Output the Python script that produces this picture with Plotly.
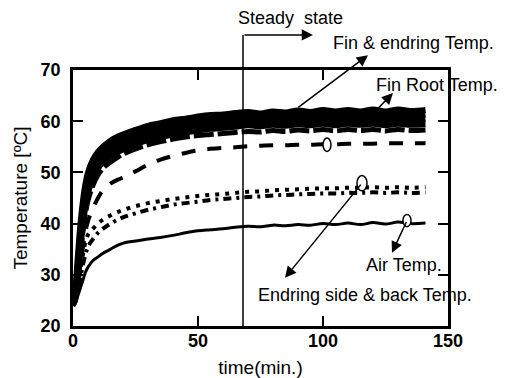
import plotly.graph_objects as go

# time axis (min.)
time_min = [0, 1, 2, 3, 4, 5, 6, 8, 10, 12, 15, 18, 21, 25, 30, 35, 40, 45, 50, 55,
            60, 65, 70, 75, 80, 85, 90, 95, 100, 105, 110, 115, 120, 125, 130, 135, 141]

# Fin & endring temperatures (thick band)
fin_end_1 = [24.5, 27.5, 34, 40, 44.5, 47.8, 50, 52.5, 54, 55, 56.2, 57, 57.6, 58.3, 59.1, 59.6, 60.2, 60.5, 60.9, 61.2,
             61.3, 61.6, 61.8, 61.5, 61.9, 61.7, 62.1, 61.8, 62.2, 61.9, 62.2, 61.9, 62.3, 61.9, 62.3, 62.0, 62.2]
fin_end_2 = [24.3, 27, 32.5, 38.5, 43, 46.5, 48.8, 51.5, 53, 54, 55.2, 56, 56.6, 57.3, 58.1, 58.7, 59.3, 59.7, 60.1, 60.3,
             60.5, 60.8, 61, 60.8, 61.1, 60.9, 61.2, 61, 61.3, 61, 61.3, 61.1, 61.4, 61, 61.3, 61.1, 61.3]
fin_end_3 = [24.1, 26.5, 31.5, 37, 41.5, 45.2, 47.5, 50.3, 52, 53, 54.2, 55, 55.7, 56.4, 57.2, 57.9, 58.4, 58.8, 59.2, 59.5,
             59.7, 59.9, 60.1, 59.9, 60.2, 60, 60.3, 60.1, 60.4, 60.1, 60.4, 60.2, 60.4, 60.1, 60.4, 60.2, 60.4]
fin_end_4 = [24, 26, 30.5, 35.5, 40, 43.5, 46, 49, 50.8, 52, 53.2, 54, 54.7, 55.5, 56.3, 56.9, 57.4, 57.8, 58.2, 58.5,
             58.7, 58.9, 59.2, 59, 59.3, 59.1, 59.4, 59.2, 59.5, 59.2, 59.5, 59.3, 59.5, 59.2, 59.5, 59.3, 59.4]
fin_end_5 = [24, 25.5, 29.5, 34, 38.5, 42, 44.5, 47.5, 49.5, 50.8, 52, 53, 53.8, 54.6, 55.4, 56, 56.5, 56.9, 57.2, 57.4,
             57.6, 57.8, 58, 57.9, 58.2, 58, 58.3, 58.1, 58.4, 58.1, 58.4, 58.2, 58.4, 58.1, 58.4, 58.2, 58.3]

# Fin root temperature (dashed)
fin_root = [24, 25, 28.5, 32, 35.5, 38.5, 40.5, 43, 45, 46.5, 47.8, 48.6, 49.2, 50.2, 51.5, 52.5, 53.2, 53.8, 54.3, 54.6,
            54.8, 54.9, 55.1, 55.2, 55.3, 55.3, 55.4, 55.4, 55.5, 55.5, 55.6, 55.6, 55.6, 55.7, 55.7, 55.7, 55.7]

# Endring side & back temperatures (dotted)
endring_side = [24, 25, 28, 31, 34, 36.5, 37.8, 39, 40, 40.8, 41.6, 42.3, 42.8, 43.4, 44, 44.4, 44.8, 45.1, 45.4, 45.6,
                45.8, 46, 46.2, 46.3, 46.5, 46.6, 46.7, 46.8, 46.9, 46.9, 47, 47, 47.1, 47, 47.1, 47, 47.1]
endring_back = [24, 24.8, 27, 29.5, 32, 34, 35.5, 37, 38.2, 39, 40, 40.8, 41.4, 42, 42.7, 43.2, 43.7, 44, 44.3, 44.6,
                44.8, 45, 45.2, 45.3, 45.5, 45.6, 45.7, 45.8, 45.9, 45.9, 46, 46, 46.1, 46, 46.1, 46, 46.1]

# Air temperature (solid)
air = [24, 24.5, 26, 27.5, 29, 30.5, 31.5, 32.8, 33.5, 34.2, 35, 35.8, 36.3, 36.6, 37, 37.3, 37.7, 38.2, 38.6, 38.8,
       39, 39.3, 39.5, 39.4, 39.7, 39.6, 39.8, 39.7, 40, 39.8, 40.1, 39.8, 40.2, 39.9, 40.3, 40, 40.1]

steady_time = 68

x_ticks = [0, 50, 100, 150]
y_ticks = [20, 30, 40, 50, 60, 70]

fig = go.Figure()
for s in [fin_end_1, fin_end_2, fin_end_3, fin_end_4]:
    fig.add_trace(go.Scatter(x=time_min, y=s, mode="lines",
                             line=dict(color="black", width=6, shape="spline")))
fig.add_trace(go.Scatter(x=time_min, y=fin_end_5, mode="lines",
                         line=dict(color="black", width=5, dash="20px,4px", shape="spline")))
fig.add_trace(go.Scatter(x=time_min, y=fin_root, mode="lines",
                         line=dict(color="black", width=4, dash="14px,12px", shape="spline")))
fig.add_trace(go.Scatter(x=time_min, y=endring_side, mode="lines",
                         line=dict(color="black", width=4, dash="4px,6px", shape="spline")))
fig.add_trace(go.Scatter(x=time_min, y=endring_back, mode="lines",
                         line=dict(color="black", width=4, dash="8px,5px,3px,5px", shape="spline")))
fig.add_trace(go.Scatter(x=time_min, y=air, mode="lines",
                         line=dict(color="black", width=3, shape="spline")))

ann_font = dict(family="Liberation Sans, Arial", size=18, color="black")

# steady state line + arrow
fig.add_shape(type="line", xref="x", yref="paper", x0=steady_time, x1=steady_time, y0=0, y1=1.137,
              line=dict(color="black", width=1.5))
fig.add_annotation(xref="x", yref="paper", x=96, y=1.137, ax=-(96 - steady_time) * 2.5, ay=0,
                   axref="pixel", ayref="pixel", text="", showarrow=True,
                   arrowhead=2, arrowsize=1.5, arrowwidth=1.5, arrowcolor="black")
fig.add_annotation(xref="paper", yref="paper", x=0.579, y=1.203, text="Steady  state",
                   showarrow=False, font=ann_font, xanchor="center", yanchor="middle")

# label arrows (head, tail) in data coords
arrows = [
    ((118, 72.9), (89.5, 62.5)),
    ((128, 65.5), (120, 61.5)),
    ((84.8, 29.4), (115.6, 47.9)),
    ((127.6, 34.3), (133.6, 40.6)),
]
for (hx, hy), (tx, ty) in arrows:
    fig.add_annotation(xref="x", yref="y", x=hx, y=hy, axref="x", ayref="y", ax=tx, ay=ty,
                       text="", showarrow=True, arrowhead=2, arrowsize=1.5, arrowwidth=1.5,
                       arrowcolor="black")

# small circles marking the curves
for cx, cy, rx, ry in [(115.6, 47.9, 2.0, 1.5), (133.6, 40.6, 1.6, 1.2), (101.6, 55.4, 1.6, 1.3)]:
    fig.add_shape(type="circle", xref="x", yref="y", x0=cx - rx, x1=cx + rx, y0=cy - ry, y1=cy + ry,
                  line=dict(color="black", width=1.5), fillcolor="white", layer="above")

labels = [
    ("Fin & endring Temp.", 0.909, 1.105),
    ("Fin Root Temp.", 0.971, 0.941),
    ("Air Temp.", 0.883, 0.238),
    ("Endring side & back Temp.", 0.779, 0.121),
]
for txt, px, py in labels:
    fig.add_annotation(xref="paper", yref="paper", x=px, y=py, text=txt, showarrow=False,
                       font=ann_font, xanchor="center", yanchor="middle")

tick_font = dict(family="Liberation Sans, Arial", size=18, color="black", weight="bold")
axis_common = dict(showgrid=False, zeroline=False, showline=True, linecolor="black", linewidth=2.5,
                   mirror="ticks", ticks="inside", ticklen=10, tickwidth=2, tickcolor="black",
                   tickfont=tick_font, automargin=False)

fig.update_xaxes(range=[0, 150], tickvals=x_ticks, ticktext=[str(v) for v in x_ticks],
                 ticklabelstandoff=-3,
                 title=dict(text="time(min.)", font=dict(family="Liberation Sans, Arial", size=19, color="black"),
                            standoff=12),
                 **axis_common)
fig.update_yaxes(range=[20, 70], tickvals=y_ticks, ticktext=[str(v) for v in y_ticks],
                 ticklabelstandoff=6,
                 title=dict(text="Temperature [ºC]", font=dict(family="Liberation Sans, Arial", size=19, color="black"),
                            standoff=8),
                 **axis_common)

fig.update_layout(width=506, height=378, margin=dict(l=73, r=58, t=70, b=52),
                  paper_bgcolor="white", plot_bgcolor="white", showlegend=False)

fig.write_html("out.html")
